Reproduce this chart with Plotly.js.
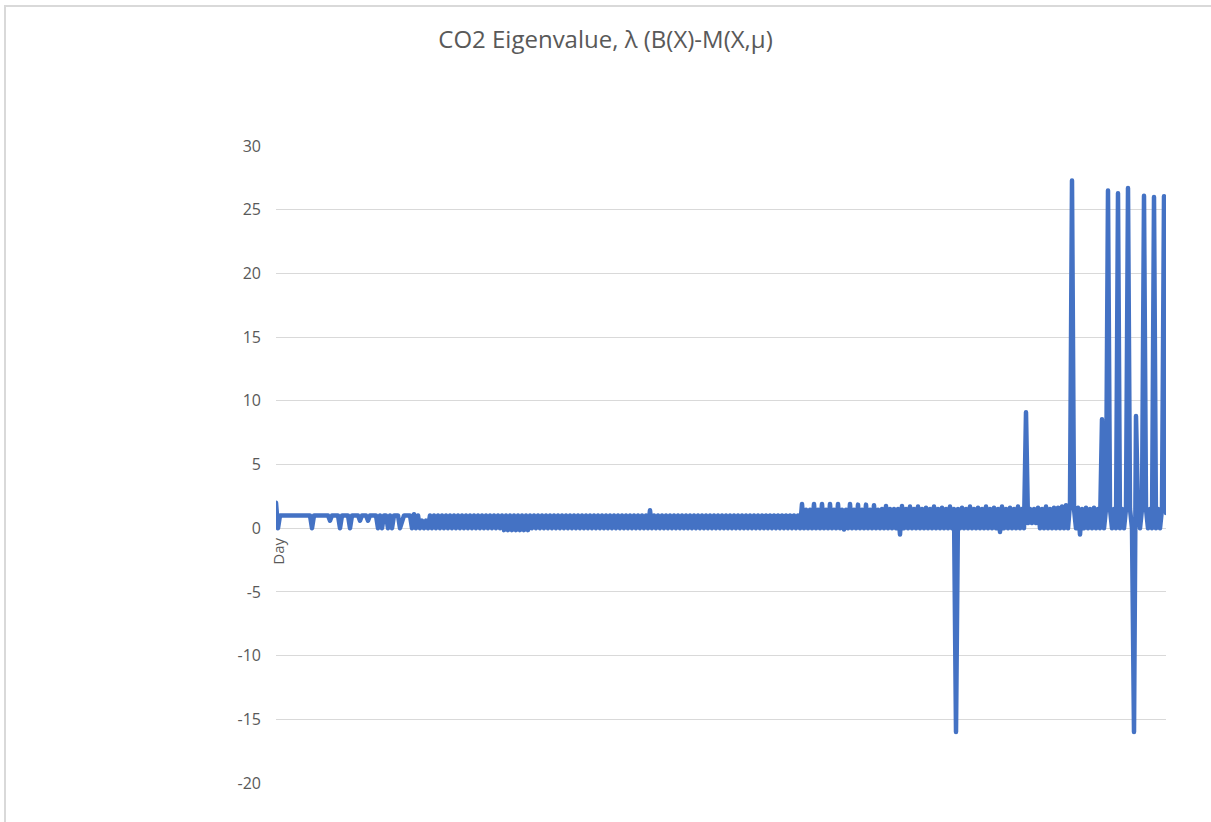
<!DOCTYPE html>
<html>
<head>
<meta charset="utf-8">
<script src="https://cdn.plot.ly/plotly-3.0.1.min.js"></script>
<style>
  html, body { margin: 0; padding: 0; background: #ffffff; overflow: hidden; }
  #chart { width: 1211px; height: 822px; position: absolute; left: 0; top: 0; }
  #frame { position: absolute; left: 4px; top: 5px; width: 1400px; height: 1000px;
           border: 2px solid #d9d9d9; pointer-events: none; box-sizing: border-box; }
  #chart path.js-line { stroke-linejoin: round; stroke-linecap: round; }
</style>
</head>
<body>
<div id="chart"></div>
<div id="frame"></div>
<script>
// Title and labels
const chartTitle = "CO2 Eigenvalue, \u03bb (B(X)-M(X,\u03bc)";
const categoryLabel = "Day";
const yTickValues = [-20, -15, -10, -5, 0, 5, 10, 15, 20, 25, 30];
const yTickLabels = ["-20", "-15", "-10", "-5", "0", "5", "10", "15", "20", "25", "30"];

// Series values, left part (flat around 1 with dips)
const valuesEarly = [
  2,0,1,1,1,1,1,1,1,1,
  1,1,1,1,1,1,1,1,0,1,
  1,1,1,1,1,1,1,0.6,1,1,
  1,1,0,1,1,1,1,0,1,1,
  1,1,0.6,1,1,1,0.6,1,1,1,
  1,0,1,0,1,1,0,1,0,1,
  1,1,0,0.7,1,1,1,1,0,1.1
];

// Middle part: dense oscillation between 0 and 1
const valuesMiddle = [
  0,1,0,0.6,0,0.6,0,1,0,1, 0,1,0,1,0,1,0,1,0,1,
  0,1,0,1,0,1,0,1,0,1, 0,1,0,1,0,1,0,1,0,1,
  0,1,0,1,-0.15,1,-0.15,1,-0.15,1, -0.15,1,-0.15,1,-0.15,1,-0.15,1,0,1,
  0,1,0,1,0,1,0,1,0,1, 0,1,0,1,0,1,0,1,0,1,
  0,1,0,1,0,1,0,1,0,1, 0,1,0,1,0,1,0,1,0,1,
  0,1,0,1,0,1,0,1,0,1, 0,1,0,1,0,1,0,1.4,0,1,
  0,1,0,1,0,1,0,1,0,1, 0,1,0,1,0,1,0,1,0,1,
  0,1,0,1,0,1,0,1,0,1, 0,1,0,1,0,1,0,1,0,1,
  0,1,0,1,0,1,0,1,0,1, 0,1,0,1,0,1,0,1,0,1,
  0,1,0,1,0,1,0,1,0,1, 0,1
];

// Right part: wider oscillation with large spikes
const valuesLate = [
  0,1.9,0,1.45,0,1.45,0,1.9,0,1.45, 0,1.9,0,1.45,0,1.9,0,1.45,0,1.9,
  0,1.45,-0.1,1.45,0,1.9,0,1.45,0,1.85, 0,1.45,0,1.85,0,1.45,0,1.8,0,1.45,
  0,1.5,0,1.75,0,1.5,0,1.5,0,1.5, -0.5,1.75,0,1.5,0,1.7,0,1.5,0,1.7,
  0,1.5,0,1.6,0,1.5,0,1.7,0,1.5, 0,1.6,0,1.5,0,1.7,0,1.5,-16,1.5,
  0,1.6,0,1.5,0,1.7,0,1.5,0,1.6, 0,1.5,0,1.7,0,1.5,0,1.6,0,1.5,
  -0.3,1.7,0,1.5,0,1.6,0,1.5,0,1.7, 0,1.5,0,9.1,0.4,1.5,0.4,1.5,0.4,1.6,
  0,1.5,0,1.7,0,1.5,0,1.6,0,1.6, 0,1.7,0,1.8,0,1.9,27.3,1.5,0,1.6,
  -0.5,1.5,0,1.6,0,1.5,0,1.6,0,1.5, 0,8.55,0,1.5,26.5,1.5,0,1.5,0,26.3,
  0,1.5,0,1.5,26.7,1.5,0,-16,8.8,1.5, 0,1.5,26.1,1.5,0,1.5,0,26.0,0,1.5,
  0,1.5,26.05,1.2
];

const yValues = valuesEarly.concat(valuesMiddle, valuesLate);
const xIndex = yValues.map((_, i) => i);

const trace = {
  type: "scatter",
  mode: "lines",
  x: xIndex,
  y: yValues,
  line: { color: "#4472C4", width: 4.5 },
  hoverinfo: "y",
  showlegend: false
};

const layout = {
  width: 1211,
  height: 822,
  paper_bgcolor: "#ffffff",
  plot_bgcolor: "#ffffff",
  margin: { l: 276, r: 45, t: 146, b: 39, pad: 0 },
  font: { family: "Open Sans, Noto Sans, sans-serif", color: "#595959" },
  title: {
    text: chartTitle,
    font: { family: "Open Sans, Noto Sans, sans-serif", size: 24, color: "#595959" },
    xref: "container", x: 0.5, xanchor: "center",
    yref: "container", y: 1 - 40 / 822, yanchor: "middle"
  },
  xaxis: {
    range: [0, xIndex.length - 1],
    showticklabels: false,
    showgrid: false,
    zeroline: false,
    showline: false,
    ticks: "",
    fixedrange: true
  },
  yaxis: {
    range: [-20, 30],
    tickmode: "array",
    tickvals: yTickValues,
    ticktext: yTickLabels,
    showgrid: true,
    gridcolor: "#d9d9d9",
    gridwidth: 1,
    zeroline: true,
    zerolinecolor: "#d9d9d9",
    zerolinewidth: 1,
    showline: false,
    ticks: "",
    ticklabelstandoff: 14,
    tickfont: { family: "Open Sans, Noto Sans, sans-serif", size: 16, color: "#595959" },
    fixedrange: true
  },
  annotations: [{
    text: categoryLabel,
    xref: "x", yref: "y",
    x: 0, y: 0,
    xanchor: "center", yanchor: "top",
    xshift: 2, yshift: -8,
    textangle: -90,
    showarrow: false,
    font: { family: "Open Sans, Noto Sans, sans-serif", size: 15, color: "#595959" }
  }]
};

Plotly.newPlot("chart", [trace], layout, { displayModeBar: false, staticPlot: true });
</script>
</body>
</html>
